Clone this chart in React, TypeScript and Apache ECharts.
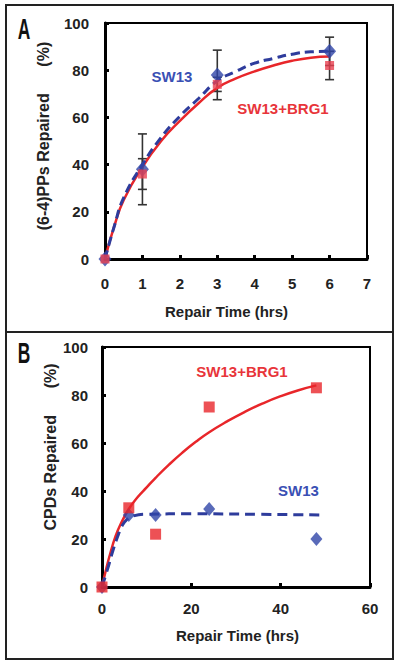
import React, { useEffect, useRef } from "react";
import * as echarts from "echarts";

// ---------- Panel A: (6-4)PPs repaired ----------
const hoursA = [0, 1, 3, 6];
const sw13A = [0, 38, 78, 88];
const brg1A = [0, 36, 74, 82];
const sw13AErr = [0, 15, 10.5, 6];
const brg1AErr = [0, 6.5, 3, 6];
const sw13ACurve = [
  [0, 0], [0.25, 14], [0.5, 26], [1, 40], [1.5, 51.5], [2, 60.5], [2.5, 68],
  [3, 75.5], [3.5, 79.5], [4, 83], [4.5, 85], [5, 86.8], [5.5, 87.8], [6, 88],
];
const brg1ACurve = [
  [0, 0], [0.25, 14], [0.5, 25], [1, 39], [1.5, 50], [2, 58.5], [2.5, 66],
  [3, 72.5], [3.5, 76.5], [4, 79.5], [4.5, 82], [5, 84], [5.5, 85.3], [6, 85.8],
];

// ---------- Panel B: CPDs repaired ----------
const hoursB = [0, 6, 12, 24, 48];
const sw13B = [0, 30, 30, 32.5, 20];
const brg1B = [0, 33, 22, 75, 83];
const sw13BCurve = [
  [0, 0], [1, 6], [1.5, 9], [2.5, 15.5], [3.5, 21], [4.5, 25.5], [5.5, 28],
  [7, 29.6], [10, 30.3], [20, 30.5], [35, 30.3], [49, 30],
];
const brg1BCurve = [
  [0, 0], [1, 8], [2, 15], [3, 21], [4, 25.5], [6, 32.5], [8, 37.5], [10, 41.5],
  [12, 45.5], [15, 51], [18, 56], [21, 60.5], [24, 64.5], [28, 69], [32, 73],
  [36, 76.5], [40, 79.5], [44, 82], [48, 84],
];

const BLUE = "#2f45a8";
const BLUE_LINE = "#2e3c9c";
const RED = "#e8262a";
const FONT = "'Liberation Sans', Arial, sans-serif";

function errData(xs: number[], ys: number[], es: number[]) {
  return xs
    .map((x, i) => [x, ys[i] - es[i], ys[i] + es[i]])
    .filter((d, i) => es[i] > 0);
}

const errRender = (params: any, api: any) => {
  const x = api.value(0);
  const lo = api.coord([x, api.value(1)]);
  const hi = api.coord([x, api.value(2)]);
  const w = 4.5;
  const style = { stroke: "#333", lineWidth: 1.6 };
  return {
    type: "group",
    children: [
      { type: "line", shape: { x1: lo[0], y1: lo[1], x2: hi[0], y2: hi[1] }, style },
      { type: "line", shape: { x1: lo[0] - w, y1: lo[1], x2: lo[0] + w, y2: lo[1] }, style },
      { type: "line", shape: { x1: hi[0] - w, y1: hi[1], x2: hi[0] + w, y2: hi[1] }, style },
    ],
  };
};

function axisCommon(margin: number) {
  return {
    axisLine: { show: true, onZero: false, lineStyle: { color: "#000", width: 3 } },
    axisTick: { show: true, inside: true, length: 4, lineStyle: { color: "#000", width: 3 } },
    axisLabel: { fontSize: 15, color: "#222", margin, fontFamily: FONT, fontWeight: "bold" },
    splitLine: { show: false },
  };
}

const letterFont = "bold 29px 'Liberation Sans', Arial, sans-serif";

export default function App() {
  const ref = useRef<HTMLDivElement>(null);
  useEffect(() => {
    document.body.style.margin = "0";
    const chart = echarts.init(ref.current!, null, { renderer: "svg" });
    const option: any = {
      animation: false,
      backgroundColor: "#fff",
      grid: [
        { left: 105, top: 23, width: 262, height: 236, show: true, borderColor: "#000", borderWidth: 2 },
        { left: 102, top: 347, width: 268, height: 240, show: true, borderColor: "#000", borderWidth: 2 },
      ],
      xAxis: [
        { gridIndex: 0, type: "value", min: 0, max: 7, interval: 1, ...axisCommon(17) },
        { gridIndex: 1, type: "value", min: 0, max: 60, interval: 20, ...axisCommon(14) },
      ],
      yAxis: [
        { gridIndex: 0, type: "value", min: 0, max: 100, interval: 20, ...axisCommon(16) },
        { gridIndex: 1, type: "value", min: 0, max: 100, interval: 20, ...axisCommon(14) },
      ],
      series: [
        // Panel A
        {
          type: "custom", xAxisIndex: 0, yAxisIndex: 0, renderItem: errRender,
          encode: { x: 0, y: [1, 2] }, data: errData(hoursA, sw13A, sw13AErr), z: 1,
        },
        {
          type: "custom", xAxisIndex: 0, yAxisIndex: 0, renderItem: errRender,
          encode: { x: 0, y: [1, 2] }, data: errData(hoursA, brg1A, brg1AErr), z: 1,
        },
        {
          type: "line", xAxisIndex: 0, yAxisIndex: 0, data: brg1ACurve, smooth: true,
          showSymbol: false, lineStyle: { color: RED, width: 2.5 }, z: 2,
        },
        {
          type: "line", xAxisIndex: 0, yAxisIndex: 0, data: sw13ACurve, smooth: true,
          showSymbol: false, lineStyle: { color: BLUE_LINE, width: 3, type: [9, 5] }, z: 3,
        },
        {
          type: "scatter", xAxisIndex: 0, yAxisIndex: 0, symbol: "diamond", symbolSize: [13, 15],
          data: hoursA.map((x, i) => [x, sw13A[i]]), itemStyle: { color: BLUE }, z: 4,
        },
        {
          type: "scatter", xAxisIndex: 0, yAxisIndex: 0, symbol: "rect", symbolSize: 9,
          data: hoursA.map((x, i) => [x, brg1A[i]]), itemStyle: { color: "#e84050" }, z: 5,
        },
        // Panel B
        {
          type: "line", xAxisIndex: 1, yAxisIndex: 1, data: brg1BCurve, smooth: true,
          showSymbol: false, lineStyle: { color: RED, width: 2.5 }, z: 2,
        },
        {
          type: "line", xAxisIndex: 1, yAxisIndex: 1, data: sw13BCurve, smooth: true,
          showSymbol: false, lineStyle: { color: BLUE_LINE, width: 3, type: [10, 6] }, z: 3,
        },
        {
          type: "scatter", xAxisIndex: 1, yAxisIndex: 1, symbol: "diamond", symbolSize: [12, 14],
          data: hoursB.map((x, i) => [x, sw13B[i]]), itemStyle: { color: BLUE }, z: 4,
        },
        {
          type: "scatter", xAxisIndex: 1, yAxisIndex: 1, symbol: "rect", symbolSize: 11,
          data: hoursB.map((x, i) => [x, brg1B[i]]), itemStyle: { color: RED }, z: 5,
        },
      ],
      graphic: [
        { type: "rect", shape: { x: 6, y: 5, width: 387, height: 654 }, style: { fill: "none", stroke: "#222", lineWidth: 2 }, z: 100 },
        { type: "line", shape: { x1: 6, y1: 332, x2: 393, y2: 332 }, style: { stroke: "#222", lineWidth: 2 }, z: 100 },
        { type: "text", x: 24, y: 29, scaleX: 0.6, style: { text: "A", fill: "#111", font: letterFont, textAlign: "center", textVerticalAlign: "middle" } },
        { type: "text", x: 24, y: 353, scaleX: 0.6, style: { text: "B", fill: "#111", font: letterFont, textAlign: "center", textVerticalAlign: "middle" } },
        { type: "text", x: 43.5, y: 136, rotation: Math.PI / 2, style: { text: "(6-4)PPs Repaired      (%)", fill: "#222", font: `bold 16px ${FONT}`, textAlign: "center", textVerticalAlign: "middle" } },
        { type: "text", x: 226.5, y: 311.5, style: { text: "Repair Time (hrs)", fill: "#222", font: `bold 15px ${FONT}`, textAlign: "center", textVerticalAlign: "middle" } },
        { type: "text", x: 50, y: 447, rotation: Math.PI / 2, style: { text: "CPDs Repaired      (%)", fill: "#222", font: `bold 16px ${FONT}`, textAlign: "center", textVerticalAlign: "middle" } },
        { type: "text", x: 237.5, y: 635.5, style: { text: "Repair Time (hrs)", fill: "#222", font: `bold 15px ${FONT}`, textAlign: "center", textVerticalAlign: "middle" } },
        { type: "text", x: 172, y: 76, style: { text: "SW13", fill: "#3a50b4", font: `bold 15px ${FONT}`, textAlign: "center", textVerticalAlign: "middle" } },
        { type: "text", x: 283, y: 108, style: { text: "SW13+BRG1", fill: "#e8353a", font: `bold 15px ${FONT}`, textAlign: "center", textVerticalAlign: "middle" } },
        { type: "text", x: 242, y: 371, style: { text: "SW13+BRG1", fill: "#e8353a", font: `bold 15px ${FONT}`, textAlign: "center", textVerticalAlign: "middle" } },
        { type: "text", x: 298.5, y: 490, style: { text: "SW13", fill: "#3a50b4", font: `bold 15px ${FONT}`, textAlign: "center", textVerticalAlign: "middle" } },
      ],
    };
    chart.setOption(option);
    return () => chart.dispose();
  }, []);
  return <div ref={ref} style={{ width: 400, height: 666 }} />;
}
